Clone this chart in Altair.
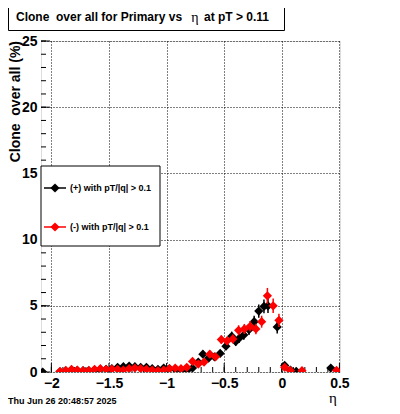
import altair as alt
import pandas as pd
import numpy as np

# ---------------- data ----------------
pos_eta = [-2.075, -1.925, -1.875, -1.825, -1.775, -1.725, -1.675, -1.625, -1.575, -1.525,
           -1.475, -1.425, -1.375, -1.325, -1.275, -1.225, -1.175, -1.125, -1.075, -1.025,
           -0.975, -0.925, -0.875, -0.825, -0.775, -0.725, -0.685, -0.635, -0.585, -0.535,
           -0.485, -0.435, -0.400, -0.370, -0.330, -0.285, -0.240, -0.200, -0.155, -0.120,
           -0.040, 0.025, 0.075, 0.125, 0.425]
pos_val = [0.0, 0.02, 0.08, 0.15, 0.12, 0.10, 0.10, 0.15, 0.20, 0.20,
           0.25, 0.35, 0.40, 0.45, 0.40, 0.35, 0.35, 0.25, 0.20, 0.30,
           0.25, 0.20, 0.15, 0.10, 0.30, 0.75, 1.35, 1.05, 1.15, 1.40,
           1.95, 2.70, 2.30, 2.55, 2.80, 3.20, 3.80, 4.60, 4.95, 5.00,
           3.40, 0.50, 0.15, 0.05, 0.30]
pos_err = [0.0, 0.03, 0.05, 0.07, 0.06, 0.06, 0.06, 0.07, 0.08, 0.08,
           0.09, 0.10, 0.11, 0.12, 0.11, 0.10, 0.11, 0.09, 0.08, 0.10,
           0.09, 0.08, 0.07, 0.06, 0.10, 0.18, 0.25, 0.22, 0.23, 0.26,
           0.30, 0.35, 0.32, 0.34, 0.36, 0.40, 0.45, 0.50, 0.52, 0.55,
           0.50, 0.20, 0.10, 0.06, 0.15]

neg_eta = [-1.925, -1.875, -1.825, -1.775, -1.725, -1.675, -1.625, -1.575, -1.525, -1.475,
           -1.425, -1.375, -1.325, -1.275, -1.225, -1.175, -1.125, -1.075, -1.025, -0.975,
           -0.925, -0.875, -0.825, -0.775, -0.725, -0.675, -0.625, -0.575, -0.525, -0.475,
           -0.425, -0.375, -0.325, -0.275, -0.225, -0.175, -0.125, -0.075, -0.025, 0.025,
           0.075, 0.175, 0.475]
neg_val = [0.05, 0.12, 0.20, 0.15, 0.10, 0.12, 0.20, 0.25, 0.20, 0.22,
           0.20, 0.15, 0.25, 0.30, 0.25, 0.20, 0.15, 0.10, 0.15, 0.25,
           0.30, 0.25, 0.35, 0.80, 0.60, 0.75, 1.35, 1.15, 2.45, 2.35,
           2.50, 3.15, 3.25, 3.45, 3.25, 3.80, 5.75, 5.00, 3.90, 0.35,
           0.10, 0.10, 0.12]
neg_err = [0.03, 0.05, 0.07, 0.06, 0.05, 0.05, 0.07, 0.08, 0.07, 0.07,
           0.07, 0.06, 0.08, 0.09, 0.08, 0.07, 0.06, 0.05, 0.06, 0.08,
           0.09, 0.08, 0.10, 0.18, 0.16, 0.18, 0.25, 0.22, 0.32, 0.32,
           0.33, 0.38, 0.38, 0.40, 0.40, 0.45, 0.60, 0.55, 0.50, 0.15,
           0.07, 0.07, 0.08]

x_major = [-2, -1.5, -1, -0.5, 0, 0.5]
y_major = [0, 5, 10, 15, 20, 25]
x_minor = [round(v, 2) for v in np.arange(-2.0, 0.51, 0.1)]
y_minor = list(range(0, 26))

NB = "\u00a0"
title_main = "Clone" + NB + " over all for Primary vs"
title_eta = "\u03b7"
title_tail = "at pT > 0.11"
y_title = "Clone" + NB + " over all (%)"
x_title = "\u03b7"
date_text = "Thu Jun 26 20:48:57 2025"
leg_labels = ["(+) with pT/|q| > 0.1", "(-) with pT/|q| > 0.1"]
leg_colors = ["black", "red"]

FONT = "Liberation Sans"
W, H = 299, 331

xs = alt.Scale(domain=[-2.09, 0.505], nice=False, zero=False)
ys = alt.Scale(domain=[0, 25], nice=False, zero=False)

XA = alt.Axis(values=x_major, title=None, grid=True, gridDash=[1, 2], gridColor="black",
              gridOpacity=1, gridWidth=1, ticks=False, domain=False, labelFont=FONT,
              labelFontWeight="bold", labelFontSize=14, labelColor="black", labelPadding=4,
              labelFlush=False, labelOverlap=False, format="~g")
YA = alt.Axis(values=y_major, title=None, grid=True, gridDash=[1, 2], gridColor="black",
              gridOpacity=1, gridWidth=1, ticks=False, domain=False, labelFont=FONT,
              labelFontWeight="bold", labelFontSize=14, labelColor="black", labelPadding=4,
              labelFlush=False, labelOverlap=False, format="~g")


def frame(eta, val, err):
    v = np.array(val)
    e = np.array(err)
    return pd.DataFrame({"eta": eta, "val": val, "lo": v - e, "hi": v + e})


pos_df = frame(pos_eta, pos_val, pos_err)
neg_df = frame(neg_eta, neg_val, neg_err)
one = pd.DataFrame({"d": [0]})

# axes with dotted grid, labels only
axes = alt.Chart(pd.DataFrame({"x": [0.0], "y": [0.0]})).mark_point(opacity=0).encode(
    x=alt.X("x:Q", scale=xs, axis=XA),
    y=alt.Y("y:Q", scale=ys, axis=YA),
)

# inward ticks
xmaj = alt.Chart(pd.DataFrame({"t": x_major})).mark_rule(color="black").encode(
    x=alt.X("t:Q", scale=xs, axis=XA), y=alt.value(H), y2=alt.value(H - 9))
xmin = alt.Chart(pd.DataFrame({"t": x_minor})).mark_rule(color="black").encode(
    x=alt.X("t:Q", scale=xs, axis=XA), y=alt.value(H), y2=alt.value(H - 5))
ymaj = alt.Chart(pd.DataFrame({"t": y_major})).mark_rule(color="black").encode(
    y=alt.Y("t:Q", scale=ys, axis=YA), x=alt.value(0), x2=alt.value(9))
ymin = alt.Chart(pd.DataFrame({"t": y_minor})).mark_rule(color="black").encode(
    y=alt.Y("t:Q", scale=ys, axis=YA), x=alt.value(0), x2=alt.value(5))


def series(df, color):
    err = alt.Chart(df).mark_rule(color=color, strokeWidth=1.5).encode(
        x=alt.X("eta:Q", scale=xs, axis=XA),
        y=alt.Y("lo:Q", scale=ys, axis=YA),
        y2="hi:Q")
    pts = alt.Chart(df).mark_point(shape="diamond", filled=True, size=85, color=color,
                                   opacity=1, clip=True).encode(
        x=alt.X("eta:Q", scale=xs, axis=XA),
        y=alt.Y("val:Q", scale=ys, axis=YA))
    return err + pts


# legend box
leg_box = alt.Chart(one).mark_rect(fill="white", stroke="black", strokeWidth=1).encode(
    x=alt.value(0), x2=alt.value(119), y=alt.value(125), y2=alt.value(205))
leg_layers = []
for i, (lab, col) in enumerate(zip(leg_labels, leg_colors)):
    yy = 147 + 39 * i
    leg_layers.append(alt.Chart(one).mark_rule(color=col, strokeWidth=1.5).encode(
        x=alt.value(3), x2=alt.value(25), y=alt.value(yy)))
    leg_layers.append(alt.Chart(one).mark_point(shape="diamond", filled=True, size=85,
                                                color=col, opacity=1).encode(
        x=alt.value(14), y=alt.value(yy)))
    leg_layers.append(alt.Chart(one).mark_text(
        font=FONT, fontWeight="bold", fontSize=9, align="left", baseline="middle",
        color="black").encode(x=alt.value(29), y=alt.value(yy), text=alt.value(lab)))

# title box
title_box = alt.Chart(one).mark_rect(fill="white", stroke="black", strokeWidth=1).encode(
    x=alt.value(-32.5), x2=alt.value(243.5), y=alt.value(-37.5), y2=alt.value(-10.5))
t1 = alt.Chart(one).mark_text(font=FONT, fontWeight="bold", fontSize=12, align="left",
                              baseline="middle", color="black").encode(
    x=alt.value(-25), y=alt.value(-24), text=alt.value(title_main))
t2 = alt.Chart(one).mark_text(font="Liberation Serif", fontSize=14, align="center",
                              baseline="middle", color="black").encode(
    x=alt.value(154), y=alt.value(-23), text=alt.value(title_eta))
t3 = alt.Chart(one).mark_text(font=FONT, fontWeight="bold", fontSize=12, align="left",
                              baseline="middle", color="black").encode(
    x=alt.value(163), y=alt.value(-24), text=alt.value(title_tail))

ytitle = alt.Chart(one).mark_text(font=FONT, fontWeight="bold", fontSize=14, align="right",
                                  baseline="middle", angle=270, color="black").encode(
    x=alt.value(-25), y=alt.value(0), text=alt.value(y_title))
xtitle = alt.Chart(one).mark_text(font="Liberation Serif", fontSize=15, align="center",
                                  baseline="alphabetic", color="black").encode(
    x=alt.value(292), y=alt.value(362), text=alt.value(x_title))
date = alt.Chart(one).mark_text(font=FONT, fontWeight="bold", fontSize=9, align="left",
                                baseline="alphabetic", color="black").encode(
    x=alt.value(-33), y=alt.value(363), text=alt.value(date_text))

chart = alt.layer(
    axes, xmin, xmaj, ymin, ymaj,
    series(pos_df, "black"), series(neg_df, "red"),
    leg_box, *leg_layers,
    title_box, t1, t2, t3, ytitle, xtitle, date,
).resolve_scale(x="shared", y="shared").properties(
    width=W, height=H,
    autosize=alt.AutoSizeParams(type="none"),
    padding={"left": 33, "top": 33, "right": 52, "bottom": 34},
).configure_view(stroke="black", strokeWidth=1, fill="white").configure(background="white")

chart.save("out.html", embed_options={"renderer": "svg", "actions": False})
